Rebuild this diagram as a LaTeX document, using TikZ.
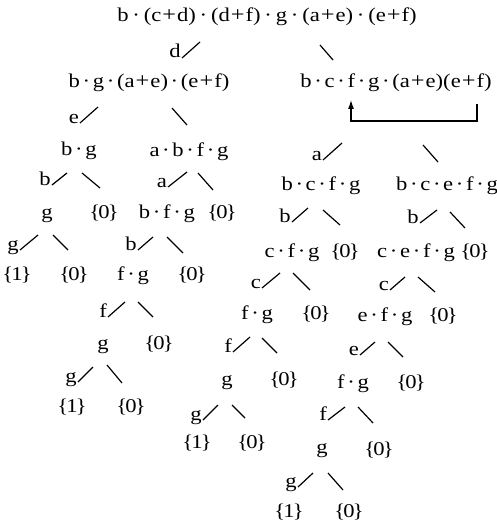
\documentclass[tikz,border=0pt]{standalone}
\usepackage{fontspec}
\setmainfont{Liberation Serif}[FakeStretch=1.16]
\usetikzlibrary{arrows.meta}
% operators of the products, with their own spacing
\newcommand\dt{\kern2.7pt·\kern2.7pt}
\newcommand\dtw{\kern3.8pt·\kern3.8pt}
\newcommand\pl{\kern1.0pt{\fontsize{21}{22}\selectfont+}\kern1.0pt}
\newcommand\zero{\{\kern-1.8pt0\kern-1.8pt\}}
\newcommand\one{\{\kern-1.8pt1\kern-1.8pt\}}

\begin{document}
\begin{tikzpicture}[x=1pt,y=-1pt,
  every node/.style={font=\fontsize{19.5}{22}\selectfont, inner sep=0pt},
  expr/.style={anchor=base},
  lab/.style={anchor=base east},
  twig/.style={line width=1.2pt},
  backarrow/.style={line width=1.2pt, -{Latex[length=9pt,width=6pt]}}]
\useasboundingbox (0,0) rectangle (497,524);

% ---- root
\node[expr] (r0) at (267,22) {b\dtw(c\pl d)\dtw(d\pl f)\dtw g\dtw(a\pl e)\dtw(e\pl f)};
\node[lab] (r0d) at (181,58) {d};
\draw[twig] (182,58) -- (200,42);
\draw[twig] (320,45) -- (333,60);

% ---- first split
\node[expr] (n1) at (149,88) {b\dt g\dt(a\pl e)\dt(e\pl f)};
\node[expr] (n2) at (396,88) {b\dt c\dt f\dt g\dt(a\pl e)(e\pl f)};
\coordinate (fsrc) at (477,104);
\coordinate (fdst) at (351,100);
\draw[backarrow] (fsrc) -- ++(0,17) -| (fdst);

\node[lab] (n1e) at (79,123) {e};
\draw[twig] (80,123) -- (98,107);
\draw[twig] (172,108) -- (187,125);
\node[lab] (n2a) at (322,160) {a};
\draw[twig] (323,160) -- (342,143);
\draw[twig] (423,145) -- (438,162);

% ---- second level
\node[expr] (n11) at (79,155) {b\dt g};
\node[expr] (n12) at (189,156) {a\dt b\dt f\dt g};
\node[expr] (n21) at (321,190) {b\dt c\dt f\dt g};
\node[expr] (n22) at (447,190) {b\dt c\dt e\dt f\dt g};

\node[lab] (n11b) at (51,185) {b};
\draw[twig] (52,185) -- (67,173);
\draw[twig] (82,173) -- (100,188);
\node[lab] (n12a) at (167,187) {a};
\draw[twig] (168,187) -- (187,172);
\draw[twig] (198,173) -- (213,190);
\node[lab] (n21b) at (291,222) {b};
\draw[twig] (292,222) -- (308,208);
\draw[twig] (323,210) -- (340,225);
\node[lab] (n22b) at (419,223) {b};
\draw[twig] (420,223) -- (437,210);
\draw[twig] (450,212) -- (465,228);

% ---- third level
\node[expr] (m1) at (47,218) {g};
\node[expr] (m1z) at (104,218) {\zero};
\node[expr] (m2) at (167,218) {b\dt f\dt g};
\node[expr] (m2z) at (222,218) {\zero};
\node[expr] (m3) at (292,257) {c\dt f\dt g};
\node[expr] (m3z) at (345,257) {\zero};
\node[expr] (m4) at (416,257) {c\dt e\dt f\dt g};
\node[expr] (m4z) at (475,257) {\zero};

\node[lab] (m1g) at (19,250) {g};
\draw[twig] (20,250) -- (38,235);
\draw[twig] (53,235) -- (68,250);
\node[lab] (m2b) at (137,250) {b};
\draw[twig] (138,250) -- (153,237);
\draw[twig] (167,237) -- (183,253);
\node[lab] (m3c) at (261,288) {c};
\draw[twig] (262,288) -- (280,273);
\draw[twig] (293,273) -- (310,290);
\node[lab] (m4c) at (389,290) {c};
\draw[twig] (390,290) -- (405,277);
\draw[twig] (418,277) -- (435,292);

% ---- fourth level
\node[expr] (p1) at (17,280) {\one};
\node[expr] (p1z) at (74,280) {\zero};
\node[expr] (p2) at (133,280) {f\dt g};
\node[expr] (p2z) at (192,280) {\zero};
\node[expr] (p3) at (257,319) {f\dt g};
\node[expr] (p3z) at (316,319) {\zero};
\node[expr] (p4) at (385,321) {e\dt f\dt g};
\node[expr] (p4z) at (443,321) {\zero};

\node[lab] (p2f) at (107,317) {f};
\draw[twig] (108,317) -- (125,302);
\draw[twig] (138,302) -- (153,317);
\node[lab] (p3f) at (232,352) {f};
\draw[twig] (233,352) -- (250,337);
\draw[twig] (262,338) -- (277,353);
\node[lab] (p4e) at (359,355) {e};
\draw[twig] (360,355) -- (375,342);
\draw[twig] (388,342) -- (403,357);

% ---- fifth level
\node[expr] (q2) at (103,349) {g};
\node[expr] (q2z) at (159,349) {\zero};
\node[expr] (q3) at (227,385) {g};
\node[expr] (q3z) at (284,385) {\zero};
\node[expr] (q4) at (353,388) {f\dt g};
\node[expr] (q4z) at (411,388) {\zero};

\node[lab] (q2g) at (77,382) {g};
\draw[twig] (78,382) -- (93,367);
\draw[twig] (107,365) -- (122,383);
\node[lab] (q3g) at (202,420) {g};
\draw[twig] (203,420) -- (218,405);
\draw[twig] (232,405) -- (245,418);
\node[lab] (q4f) at (327,420) {f};
\draw[twig] (328,420) -- (345,407);
\draw[twig] (358,407) -- (373,423);

% ---- sixth level
\node[expr] (s2) at (72,412) {\one};
\node[expr] (s2z) at (131,412) {\zero};
\node[expr] (s3) at (197,448) {\one};
\node[expr] (s3z) at (252,448) {\zero};
\node[expr] (s4) at (322,453) {g};
\node[expr] (s4z) at (379,455) {\zero};

\node[lab] (s4g) at (297,487) {g};
\draw[twig] (298,487) -- (313,473);
\draw[twig] (328,473) -- (343,490);

% ---- last level
\node[expr] (t4) at (289,517) {\one};
\node[expr] (t4z) at (349,517) {\zero};
\end{tikzpicture}
\end{document}
